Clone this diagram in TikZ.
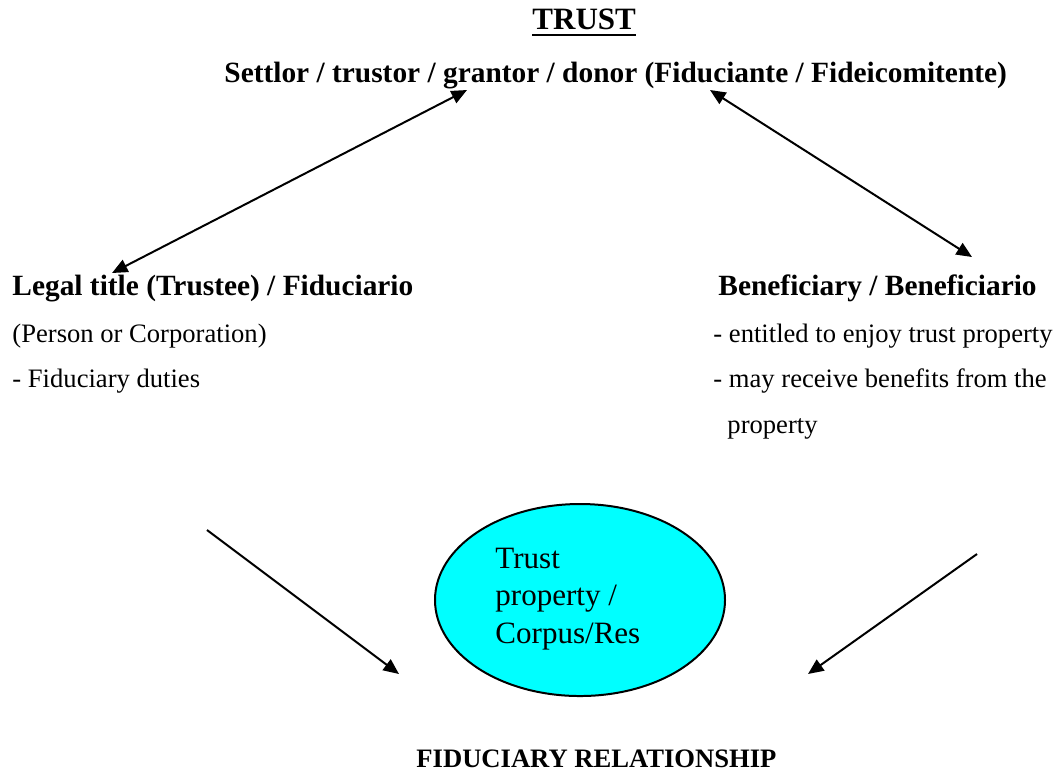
\documentclass[tikz,border=0pt]{standalone}
\usepackage{fontspec}
\setmainfont{Liberation Serif}
\usetikzlibrary{arrows.meta,shapes.geometric}
\definecolor{corpusfill}{RGB}{0,255,255}
\begin{document}
\begin{tikzpicture}[x=0.451pt,y=-0.451pt,
  >={Triangle[length=7pt,width=6pt]},
  txt/.style={anchor=base west,inner sep=0pt,font=\fontsize{12}{14}\selectfont},
  head/.style={txt,font=\fontsize{13.25}{16}\selectfont\bfseries},
  link/.style={line width=0.9pt}]
  \useasboundingbox (0,0) rectangle (1057,771);
  \node[txt,font=\fontsize{14}{17}\selectfont\bfseries] (trust) at (532,29) {TRUST};
  \draw[line width=1.3pt] ([yshift=-2.7pt]trust.base west) -- ([yshift=-2.7pt]trust.base east);
  \node[head] (settlor) at (224,82) {Settlor / trustor / grantor / donor (Fiduciante / Fideicomitente)};
  \node[head] (trustee) at (12,295) {Legal title (Trustee) / Fiduciario};
  \node[txt] (person) at (12,342) {(Person or Corporation)};
  \node[txt] (duties) at (12,387) {- Fiduciary duties};
  \node[head] (benef) at (718,295) {Beneficiary / Beneficiario};
  \node[txt] (enjoy) at (713,342) {- entitled to enjoy trust property};
  \node[txt] (receive) at (713,387) {- may receive benefits from the};
  \node[txt] (receivemore) at (727,433) {property};
  \node[ellipse,draw,fill=corpusfill,line width=0.9pt,minimum width=130.8pt,minimum height=86.6pt] (corpus) at (580,600) {};
  \node[txt,align=left,font=\fontsize{14}{16.9}\selectfont] (corpustext) at (495,643) {Trust\\property /\\Corpus/Res};
  \node[txt,font=\fontsize{12}{14}\selectfont\bfseries] (relation) at (416,767) {FIDUCIARY RELATIONSHIP};
  \coordinate (settlorleft) at (467,90);
  \coordinate (trusteetip) at (112,273);
  \coordinate (settlorright) at (710,90);
  \coordinate (beneftip) at (972,257);
  \coordinate (trusteeout) at (207,530);
  \coordinate (corpusleft) at (399,674);
  \coordinate (benefout) at (977,554);
  \coordinate (corpusright) at (808,674);
  \draw[link,<->] (settlorleft) -- (trusteetip);
  \draw[link,<->] (settlorright) -- (beneftip);
  \draw[link,->] (trusteeout) -- (corpusleft);
  \draw[link,->] (benefout) -- (corpusright);
\end{tikzpicture}
\end{document}
